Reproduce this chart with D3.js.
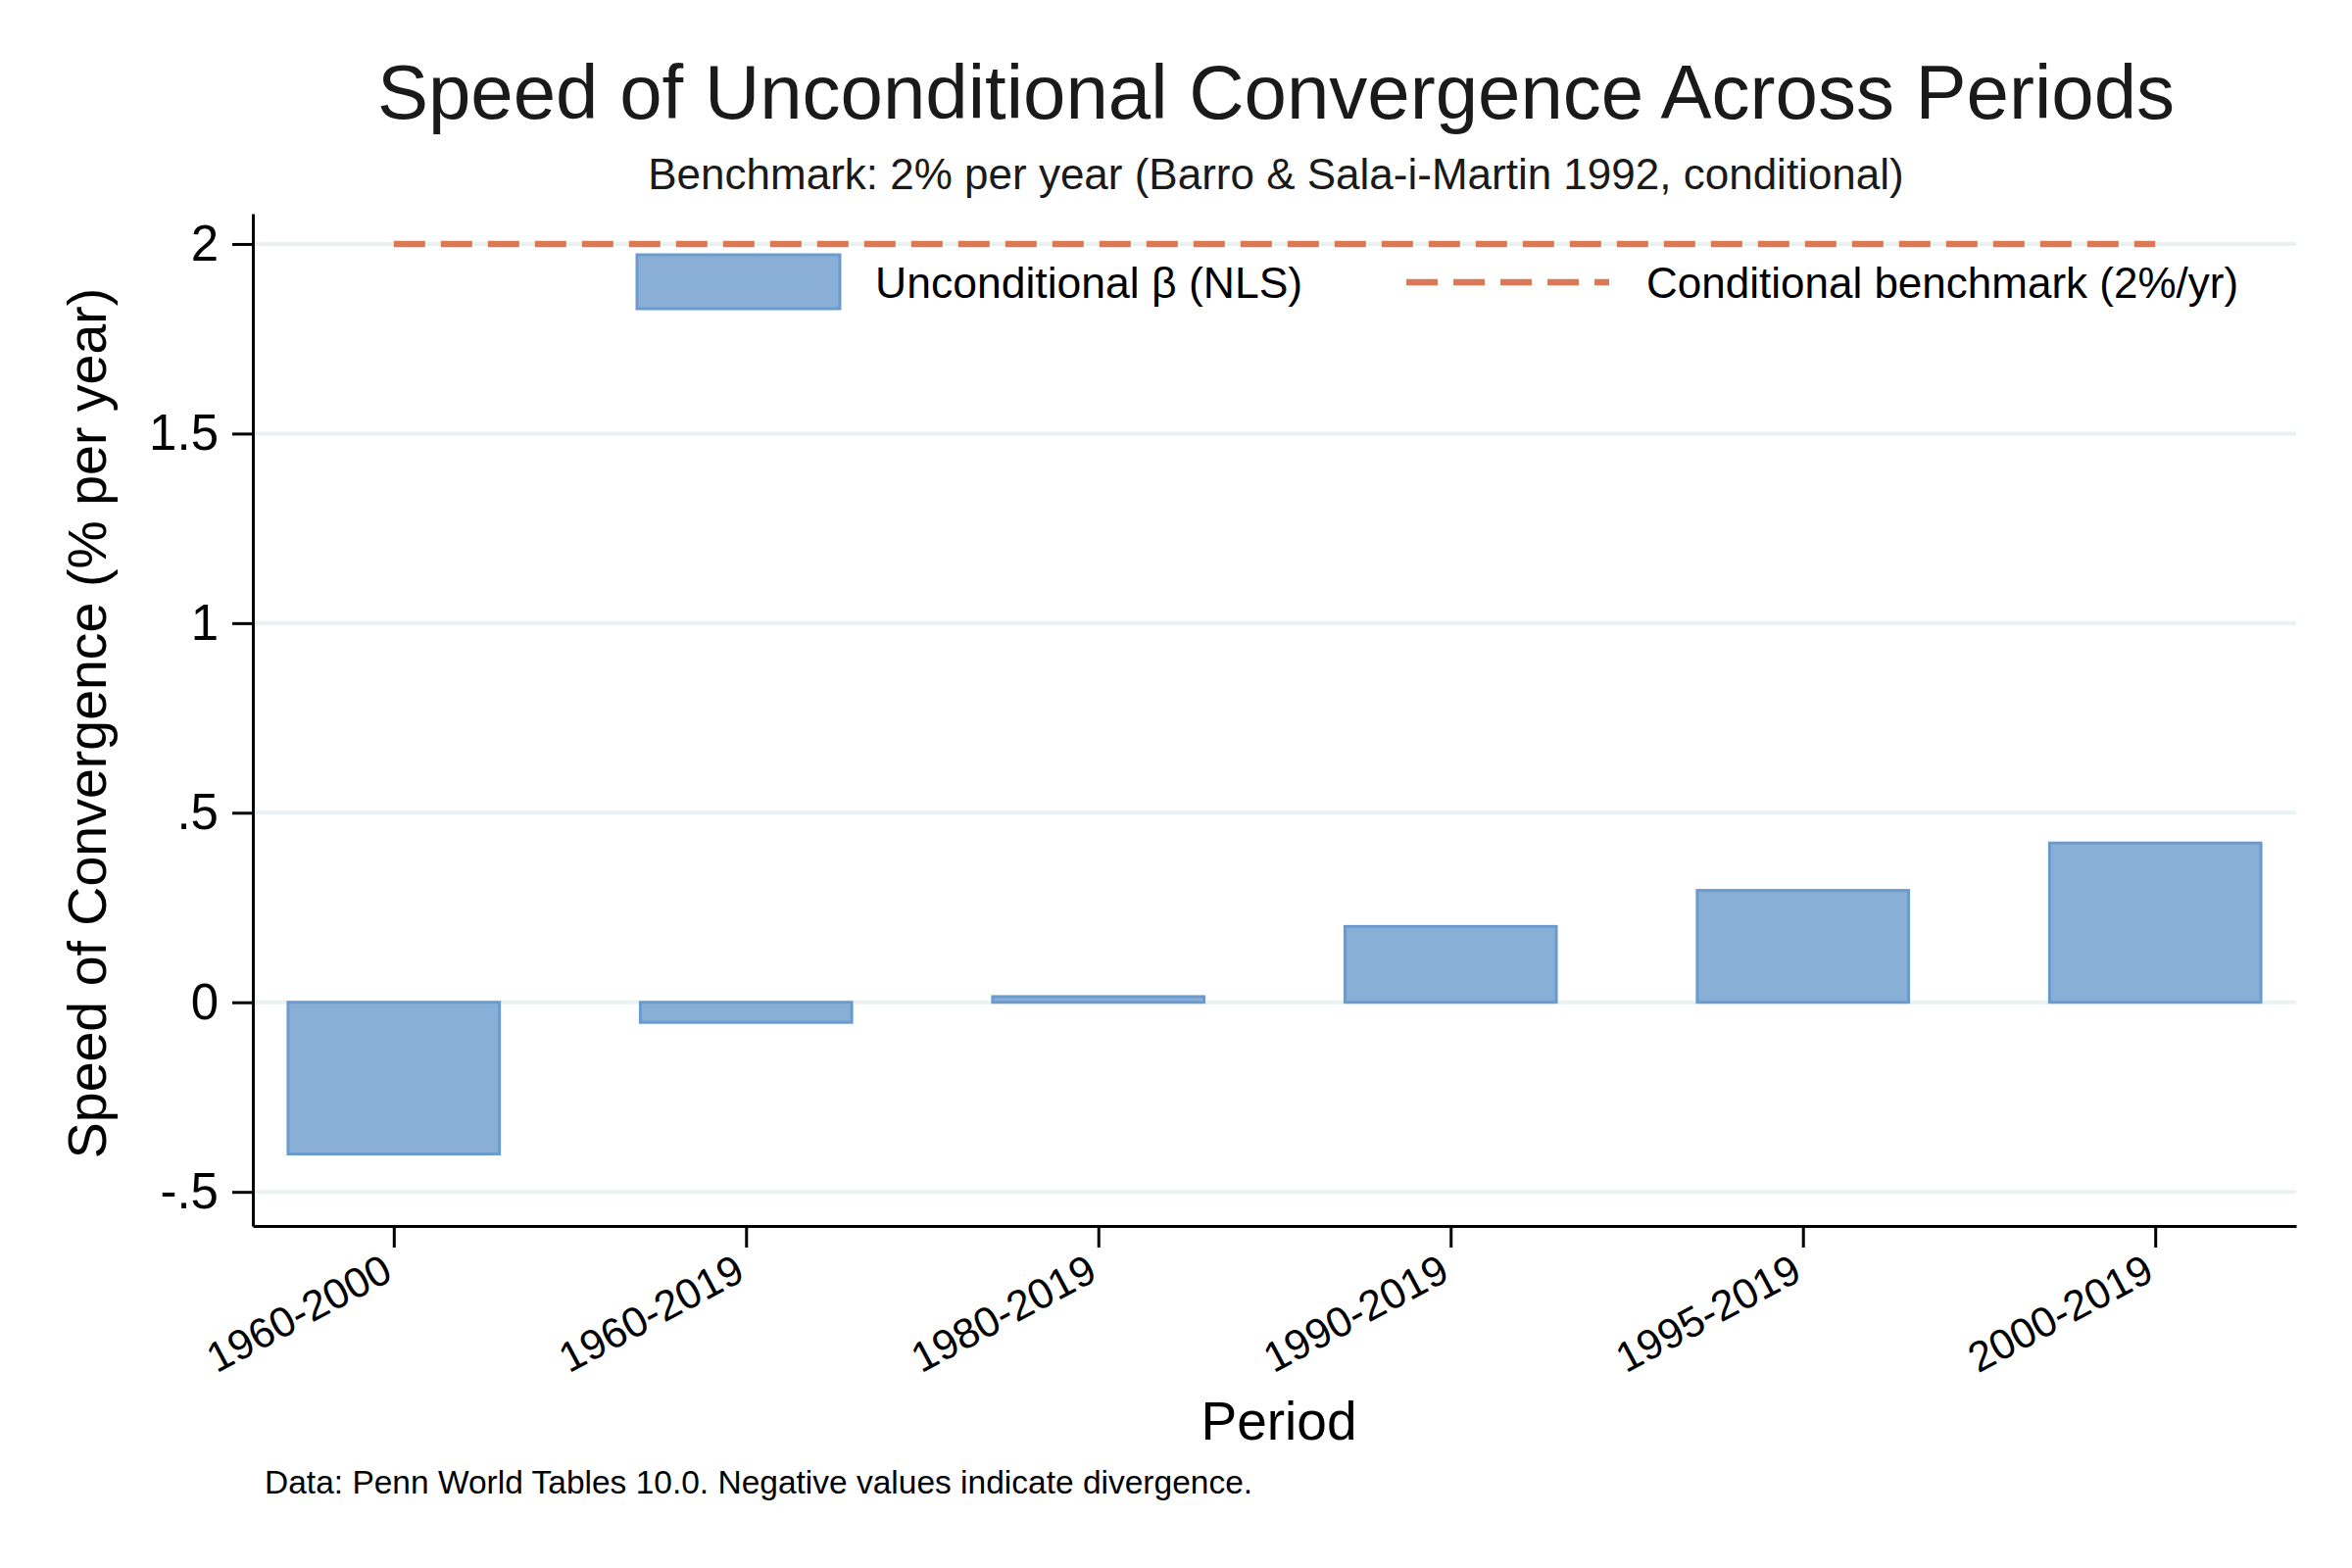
<!DOCTYPE html>
<html lang="en">
  <head>
    <meta charset="utf-8">
    <title>Speed of Unconditional Convergence</title>
    <script src="https://cdn.jsdelivr.net/npm/d3@7"></script>
    <style>
      body { margin: 0; background: #fff; }
      svg text { font-family: "Liberation Sans", Arial, Helvetica, sans-serif; }
    </style>
  </head>
  <body>
    <div id="chart"></div>
    <script>
      // values
      var periods = ["1960-2000", "1960-2019", "1980-2019", "1990-2019", "1995-2019", "2000-2019"];
      var betaValues = [-0.40, -0.053, 0.015, 0.20, 0.295, 0.42];
      var benchmark = 2;
      var yTicks = [-0.5, 0, 0.5, 1, 1.5, 2];
      var yTickLabels = ["-.5", "0", ".5", "1", "1.5", "2"];

      var W = 2400, H = 1600;
      var plot = {left: 258, right: 2343, top: 218, bottom: 1251};

      var svg = d3.select("#chart").append("svg")
        .attr("width", W).attr("height", H);

      var x = d3.scalePoint().domain(periods)
        .range([plot.left, plot.right]).padding(0.4);
      var y = d3.scaleLinear().domain([-0.59, 2.08])
        .range([plot.bottom, plot.top]);
      var barW = x.step() * 0.6;

      // gridlines
      svg.append("g").selectAll("line")
        .data(yTicks).enter().append("line")
        .attr("x1", plot.left).attr("x2", plot.right)
        .attr("y1", function(d) { return y(d); })
        .attr("y2", function(d) { return y(d); })
        .style("stroke", "#eaf1f2")
        .style("stroke-width", 4);

      // bars
      var data = periods.map(function(p, i) { return {period: p, value: betaValues[i]}; });
      svg.append("g").selectAll("rect")
        .data(data).enter().append("rect")
        .attr("x", function(d) { return x(d.period) - barW / 2; })
        .attr("width", barW)
        .attr("y", function(d) { return y(Math.max(0, d.value)); })
        .attr("height", function(d) { return Math.abs(y(d.value) - y(0)); })
        .style("fill", "#8aafd6")
        .style("stroke", "#699bcf")
        .style("stroke-width", 3);

      // benchmark line
      svg.append("line")
        .attr("x1", x(periods[0])).attr("x2", x(periods[periods.length - 1]))
        .attr("y1", y(benchmark)).attr("y2", y(benchmark))
        .style("stroke", "#dd7856")
        .style("stroke-width", 6.5)
        .style("stroke-dasharray", "32,16");

      // y axis
      var yAxis = svg.append("g")
        .attr("transform", "translate(" + plot.left + ",0)")
        .call(d3.axisLeft(y).tickValues(yTicks)
          .tickFormat(function(d, i) { return yTickLabels[i]; })
          .tickSize(21).tickSizeOuter(0).tickPadding(14));
      yAxis.selectAll("text").style("font-size", "51px").style("fill", "#000");

      // x axis
      var xAxis = svg.append("g")
        .attr("transform", "translate(0," + plot.bottom + ")")
        .call(d3.axisBottom(x).tickSize(22).tickSizeOuter(0));
      xAxis.selectAll("text")
        .style("font-size", "43px").style("fill", "#000")
        .attr("text-anchor", "end")
        .attr("x", 0).attr("y", 0).attr("dy", "0.71em")
        .attr("transform", "translate(-14,27) rotate(-28)");

      svg.selectAll(".domain, .tick line")
        .style("stroke", "#000").style("stroke-width", 3);

      // legend
      svg.append("rect")
        .attr("x", 650).attr("y", 260).attr("width", 207).attr("height", 55)
        .style("fill", "#8aafd6").style("stroke", "#699bcf").style("stroke-width", 3);
      svg.append("text").attr("x", 893).attr("y", 304)
        .style("font-size", "44.5px").text("Unconditional β (NLS)");
      svg.append("line")
        .attr("x1", 1435).attr("x2", 1642).attr("y1", 288).attr("y2", 288)
        .style("stroke", "#dd7856").style("stroke-width", 6.5)
        .style("stroke-dasharray", "32,16");
      svg.append("text").attr("x", 1680).attr("y", 304)
        .style("font-size", "44px").text("Conditional benchmark (2%/yr)");

      // titles
      svg.append("text").attr("x", 1302).attr("y", 121)
        .attr("text-anchor", "middle").style("font-size", "78px").style("fill", "#1a1a1a")
        .text("Speed of Unconditional Convergence Across Periods");
      svg.append("text").attr("x", 1302).attr("y", 193)
        .attr("text-anchor", "middle").style("font-size", "44px").style("fill", "#1a1a1a")
        .text("Benchmark: 2% per year (Barro & Sala-i-Martin 1992, conditional)");
      svg.append("text").attr("x", 1305).attr("y", 1469)
        .attr("text-anchor", "middle").style("font-size", "55px")
        .text("Period");
      svg.append("text")
        .attr("transform", "translate(108,738) rotate(-90)")
        .attr("text-anchor", "middle").style("font-size", "55.5px")
        .text("Speed of Convergence (% per year)");
      svg.append("text").attr("x", 270).attr("y", 1524)
        .style("font-size", "33.5px")
        .text("Data: Penn World Tables 10.0. Negative values indicate divergence.");
    </script>
  </body>
</html>
